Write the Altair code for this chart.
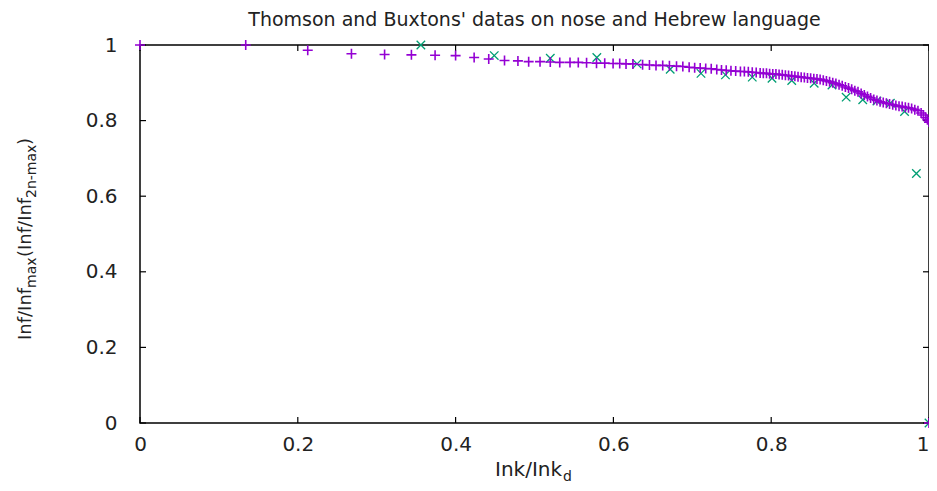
import altair as alt
import pandas as pd

# ---------------- data ----------------
purple_x = [
    0.0, 0.134, 0.2126, 0.268, 0.310, 0.344, 0.374, 0.400, 0.4235, 0.442,
    0.462, 0.479, 0.4926, 0.507, 0.520, 0.532, 0.545, 0.5555, 0.566, 0.5786,
    0.589, 0.5996, 0.608, 0.616, 0.6247, 0.637, 0.6457, 0.654, 0.6625, 0.671,
    0.680, 0.688, 0.696, 0.703, 0.710, 0.717, 0.724, 0.731, 0.737, 0.743,
    0.749, 0.755, 0.761, 0.766, 0.771, 0.776, 0.781, 0.786, 0.790, 0.794,
    0.798, 0.802, 0.806, 0.810, 0.814, 0.818, 0.822, 0.826, 0.830, 0.834,
    0.838, 0.842, 0.846, 0.850, 0.854, 0.858, 0.862, 0.866, 0.870, 0.874,
    0.878, 0.882, 0.886, 0.890, 0.894, 0.898, 0.902, 0.906, 0.910, 0.914,
    0.918, 0.922, 0.926, 0.930, 0.934, 0.938, 0.942, 0.946, 0.950, 0.954,
    0.958, 0.962, 0.966, 0.970, 0.974, 0.978, 0.982, 0.986, 0.990, 0.993,
    0.996, 0.998, 1.0, 1.0,
]
purple_y = [
    1.0, 1.0, 0.986, 0.977, 0.975, 0.974, 0.973, 0.972, 0.967, 0.963,
    0.959, 0.958, 0.956, 0.956, 0.955, 0.954, 0.954, 0.954, 0.953, 0.952,
    0.952, 0.951, 0.951, 0.950, 0.950, 0.948, 0.947, 0.946, 0.946, 0.945,
    0.944, 0.943, 0.941, 0.940, 0.939, 0.938, 0.937, 0.935, 0.934, 0.933,
    0.932, 0.931, 0.930, 0.930, 0.929, 0.928, 0.927, 0.926, 0.925, 0.925,
    0.924, 0.923, 0.923, 0.922, 0.921, 0.920, 0.919, 0.918, 0.917, 0.916,
    0.915, 0.914, 0.913, 0.912, 0.911, 0.910, 0.909, 0.907, 0.905, 0.903,
    0.900, 0.898, 0.895, 0.892, 0.889, 0.886, 0.883, 0.879, 0.876, 0.872,
    0.868, 0.864, 0.860, 0.856, 0.853, 0.850, 0.848, 0.846, 0.844, 0.842,
    0.840, 0.838, 0.837, 0.835, 0.834, 0.832, 0.829, 0.826, 0.820, 0.815,
    0.808, 0.802, 0.796, 0.0,
]
green_x = [0.356, 0.449, 0.520, 0.579, 0.630, 0.672, 0.711, 0.742, 0.776, 0.801,
           0.826, 0.8545, 0.877, 0.895, 0.916, 0.934, 0.951, 0.969, 0.984, 1.0]
green_y = [1.0, 0.972, 0.965, 0.967, 0.950, 0.936, 0.925, 0.921, 0.915, 0.912,
           0.906, 0.899, 0.894, 0.862, 0.855, 0.852, 0.846, 0.824, 0.660, 0.0]

tick_values = [0, 0.2, 0.4, 0.6, 0.8, 1]

TITLE = "Thomson and Buxtons' datas on nose and Hebrew language"
X_MAIN, X_SUB = "Ink/Ink", "d"
Y_PARTS = ["Inf/Inf", "max", "(Inf/Inf", "2n-max", " )"]

# ---------------- layout ----------------
W, H = 789, 378
FONT = "DejaVu Sans"
TXT = "#222222"
PURPLE = "#9400d3"
GREEN = "#009e73"
PLUS = "M-1,0L1,0M0,-1L0,1"
CROSS = "M-1,-1L1,1M-1,1L1,-1"

xs = alt.Scale(domain=[0, 1], nice=False, zero=False)
ys = alt.Scale(domain=[0, 1], nice=False, zero=False)

df_p = pd.DataFrame({"x": purple_x, "y": purple_y})
df_g = pd.DataFrame({"x": green_x, "y": green_y})
df_t = pd.DataFrame({"t": tick_values})

green = alt.Chart(df_g).mark_point(
    shape=CROSS, filled=False, size=72, strokeWidth=1.3, color=GREEN, opacity=1
).encode(
    x=alt.X("x:Q", scale=xs, axis=alt.Axis(
        values=tick_values, format="~g", title=None, grid=False, ticks=False,
        domain=False, labelPadding=11, labelFlush=False,
        labelAlign=alt.ExprRef("datum.value == 1 ? 'right' : 'center'"))),
    y=alt.Y("y:Q", scale=ys, axis=alt.Axis(
        values=tick_values, format="~g", title=None, grid=False, ticks=False,
        domain=False, labelPadding=23, labelBaseline="middle")),
)

purple = alt.Chart(df_p).mark_point(
    shape=PLUS, filled=False, size=100, strokeWidth=1.6, color=PURPLE, opacity=1
).encode(
    x=alt.X("x:Q", scale=xs),
    y=alt.Y("y:Q", scale=ys),
)

TL = 6
tick_style = dict(color="black", strokeWidth=1.2)
bottom_ticks = alt.Chart(df_t).mark_rule(**tick_style).encode(
    x=alt.X("t:Q", scale=xs), y=alt.value(H), y2=alt.value(H - TL))
top_ticks = alt.Chart(df_t).mark_rule(**tick_style).encode(
    x=alt.X("t:Q", scale=xs), y=alt.value(0), y2=alt.value(TL))
left_ticks = alt.Chart(df_t).mark_rule(**tick_style).encode(
    y=alt.Y("t:Q", scale=ys), x=alt.value(0), x2=alt.value(TL))
right_ticks = alt.Chart(df_t).mark_rule(**tick_style).encode(
    y=alt.Y("t:Q", scale=ys), x=alt.value(W), x2=alt.value(W - TL))


def label(text, x, y, size, angle=0, align="left"):
    return alt.Chart(pd.DataFrame({"s": [text]})).mark_text(
        font=FONT, fontSize=size, color=TXT, angle=angle, align=align,
        baseline="alphabetic"
    ).encode(text="s:N", x=alt.value(x), y=alt.value(y))


title = label(TITLE, W / 2, -19, 19, align="center")
xt_main = label(X_MAIN, 355, 431, 20)
xt_sub = label(X_SUB, 423, 436, 14)

yt = [
    label(Y_PARTS[0], -109, 295, 18, angle=270),
    label(Y_PARTS[1], -104, 243, 14, angle=270),
    label(Y_PARTS[2], -109, 212, 18, angle=270),
    label(Y_PARTS[3], -104, 153, 14, angle=270),
    label(Y_PARTS[4], -109, 100, 18, angle=270),
]

chart = alt.layer(
    green, bottom_ticks, top_ticks, left_ticks, right_ticks,
    purple, title, xt_main, xt_sub, *yt
).properties(
    width=W, height=H,
    autosize=alt.AutoSizeParams(type="none"),
    padding={"left": 132, "top": 37, "right": 0, "bottom": 60},
).configure_view(
    stroke="black", strokeWidth=1.5
).configure_axis(
    labelFont=FONT, labelFontSize=20, labelColor=TXT
)

chart.save("out.html", embed_options={"renderer": "svg", "actions": False})
